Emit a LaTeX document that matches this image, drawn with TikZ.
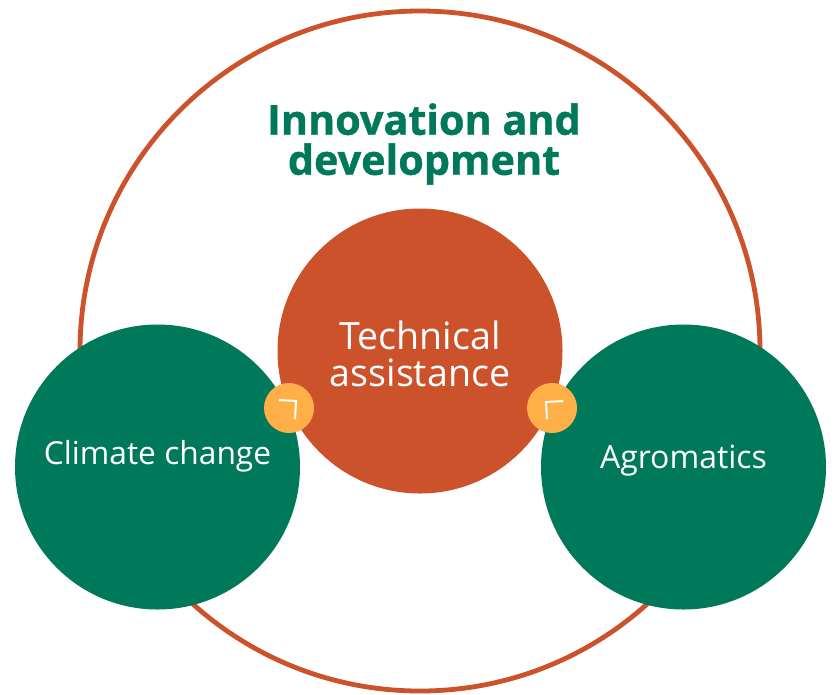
\documentclass[tikz,border=0pt]{standalone}
\usepackage{fontspec}
\setmainfont[BoldFeatures={FakeBold=1.0}]{Open Sans}
\usetikzlibrary{positioning}
\definecolor{rust}{HTML}{CC522B}
\definecolor{forest}{HTML}{00785A}
\definecolor{amber}{HTML}{FFAF47}
\newlength{\unit}
\setlength{\unit}{0.75pt}
\tikzset{
  bigdisc/.style={circle,fill=#1,inner sep=0pt,minimum size=285\unit},
  disctext/.style={text=white,align=center,inner sep=0pt},
  joint/.style={circle,fill=amber,inner sep=0pt,minimum size=50\unit},
  tick/.style={white,line width=1.5pt},
}
\begin{document}
\begin{tikzpicture}[x=0.75pt,y=-0.75pt]
  \useasboundingbox (0,0) rectangle (835,694);
  \node[circle,draw=rust,line width=3.6pt,minimum size=680\unit,inner sep=0pt](outer) at (420,351) {};
  \node[text=forest,align=center,font=\fontsize{31}{30}\selectfont\bfseries](title) at (424,144) {Innovation and\\development};
  \node[bigdisc=rust](technical) at (420,351) {};
  \node[bigdisc=forest](climate) at (157.5,467) {};
  \node[bigdisc=forest](agro) at (683.5,467) {};
  \node[disctext,font=\fontsize{28.2}{28}\selectfont](technicaltext) at (420,354) {Technical\\assistance};
  \node[disctext,font=\fontsize{23.8}{24}\selectfont](climatetext) at (157.5,456) {Climate change};
  \node[disctext,font=\fontsize{24}{24}\selectfont](agrotext) at (683.5,461) {Agromatics};
  \node[joint](jointl) at (289,408) {};
  \node[joint](jointr) at (552,408) {};
  \draw[tick] ([shift={(-10,-8)}]jointl.center) -- ([shift={(7,-7)}]jointl.center) -- ([shift={(6,11)}]jointl.center);
  \draw[tick] ([shift={(11,-7)}]jointr.center) -- ([shift={(-6,-6)}]jointr.center) -- ([shift={(-5,11)}]jointr.center);
\end{tikzpicture}
\end{document}
